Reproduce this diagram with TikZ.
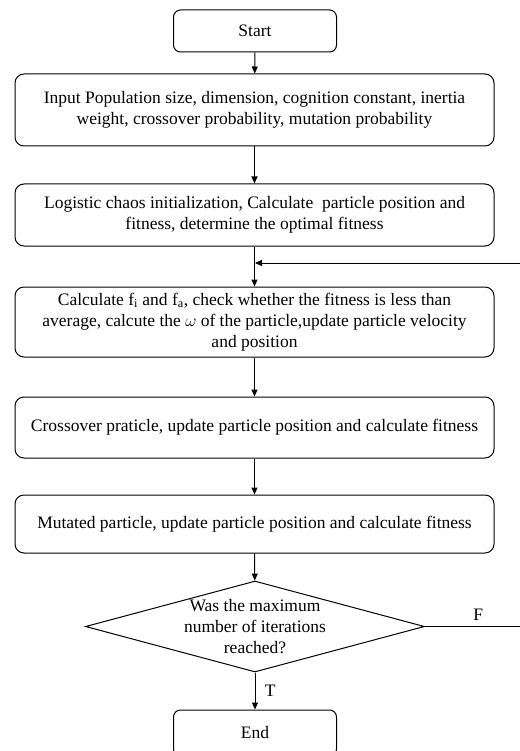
\documentclass[tikz,border=0pt]{standalone}
\usepackage{fontspec}
\setmainfont{Liberation Serif}
\usepackage{tikz}
\usetikzlibrary{arrows.meta,shapes.geometric}
\tikzset{
  term/.style={rectangle,rounded corners=7pt,draw=black,line width=1pt,minimum width=163pt,minimum height=42pt,font=\fontsize{17.5}{21}\selectfont},
  proc/.style={rectangle,rounded corners=9pt,draw=black,line width=1pt,minimum width=479pt,align=center,inner sep=0pt,font=\fontsize{17.5}{21}\selectfont},
  dec/.style={diamond,draw=black,line width=1pt,minimum width=339pt,minimum height=91pt,inner sep=0pt},
  lab/.style={align=center,font=\fontsize{17.5}{21}\selectfont},
  flow/.style={-{Triangle[length=7pt,width=6pt]},line width=1pt,black},
}
\begin{document}
\begin{tikzpicture}[x=1pt,y=-1pt]
  \useasboundingbox (0,0) rectangle (519,751);
  \node[term] (start) at (255,31) {Start};
  \node[proc,minimum height=72pt] (input) at (254.5,110)
     {Input Population size, dimension, cognition constant, inertia\\weight, crossover probability, mutation probability};
  \node[proc,minimum height=62pt] (init) at (254.5,215)
     {Logistic chaos initialization, Calculate\ \ particle position and\\fitness, determine the optimal fitness};
  \node[proc,minimum height=70pt] (calc) at (254.5,322)
     {Calculate f\textsubscript{i} and f\textsubscript{a}, check whether the fitness is less than\\average, calcute the $\omega$ of the particle,update particle velocity\\and position};
  \node[proc,minimum height=61pt] (cross) at (254.5,427.5)
     {Crossover praticle, update particle position and calculate fitness};
  \node[proc,minimum height=58pt] (mut) at (254.5,524)
     {Mutated particle, update particle position and calculate fitness};
  \node[dec] (check) at (255,626.5) {};
  \node[lab] (checktext) at (255,627) {Was the maximum\\number of iterations\\reached?};
  \node[term,minimum height=46pt] (end) at (255,733) {End};
  \coordinate (corner) at (522,626.5);
  \coordinate (merge) at (255,263);

  \draw[flow] (start) -- (input);
  \draw[flow] (input) -- (init);
  \draw[flow] (init) -- (calc);
  \draw[flow] (calc) -- (cross);
  \draw[flow] (cross) -- (mut);
  \draw[flow] (mut) -- (check);
  \draw[flow] (check) -- node[lab,right,pos=0.5,xshift=6pt]{T} (end);
  \draw[flow] (check.east) -- node[lab,above,pos=0.55,yshift=2pt]{F} (corner) |- (merge);
\end{tikzpicture}
\end{document}
